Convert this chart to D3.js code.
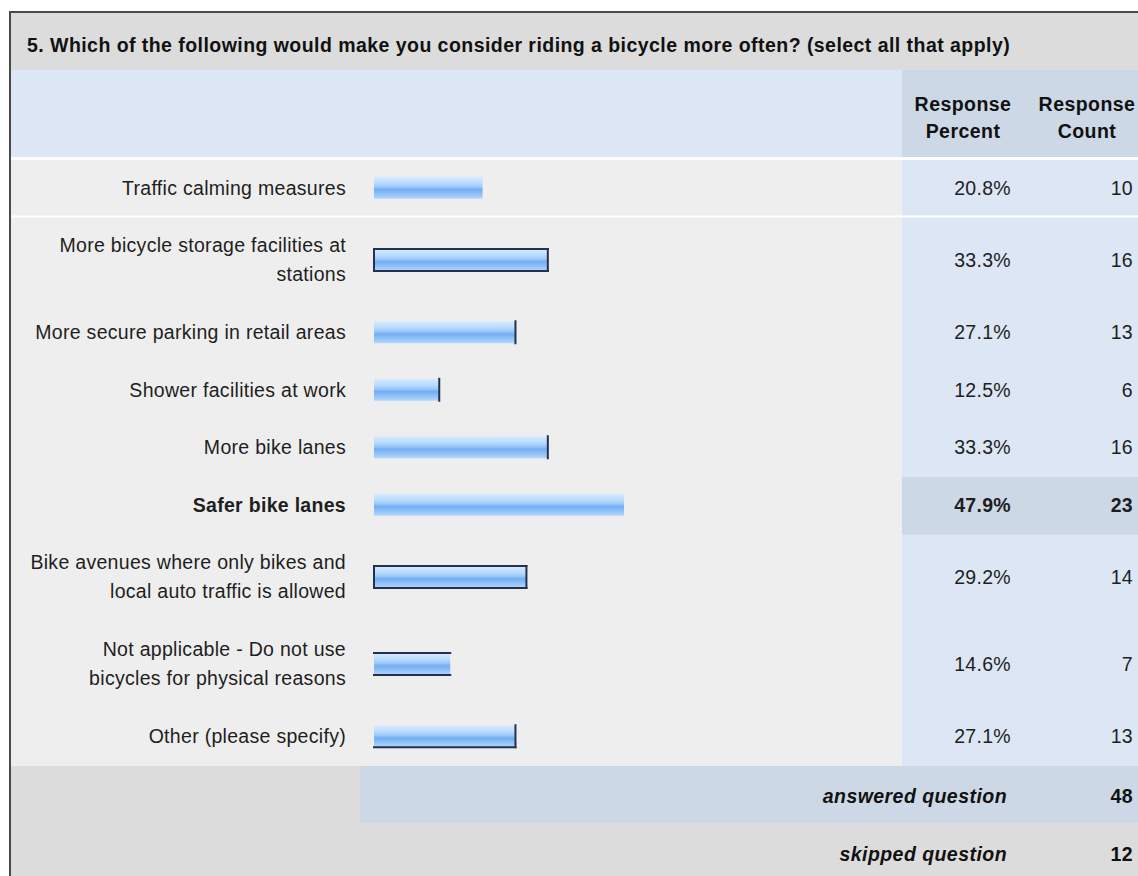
<!DOCTYPE html>
<html>
<head>
<meta charset="utf-8">
<script src="https://cdn.jsdelivr.net/npm/d3@7"></script>
<style>
  body { margin: 0; background: #fff; }
  svg { display: block; font-family: "Liberation Sans", Arial, sans-serif; letter-spacing: 0.3px; }
</style>
</head>
<body>
<div class="graph"></div>
<script>
let title = "5. Which of the following would make you consider riding a bicycle more often? (select all that apply)";
let categories = [
  ["Traffic calming measures"],
  ["More bicycle storage facilities at", "stations"],
  ["More secure parking in retail areas"],
  ["Shower facilities at work"],
  ["More bike lanes"],
  ["Safer bike lanes"],
  ["Bike avenues where only bikes and", "local auto traffic is allowed"],
  ["Not applicable - Do not use", "bicycles for physical reasons"],
  ["Other (please specify)"]
];
let percents = [20.8, 33.3, 27.1, 12.5, 33.3, 47.9, 29.2, 14.6, 27.1];
let counts = [10, 16, 13, 6, 16, 23, 14, 7, 13];
let headerPercent = ["Response", "Percent"];
let headerCount = ["Response", "Count"];
let summaryLabels = ["answered question", "skipped question"];
let summaryValues = [48, 12];

let w = 1138;
let h = 876;
let left = 11; // inside of frame
let rowTop = 160;
let labelRight = 346;
let barX = 374;
let colX = 902;
let pctRight = 1011;
let cntRight = 1133;
let fs = 19.5;

// dark edges that show on some bars in the original screenshot
let barEdges = ["", "trbl", "r", "r", "r", "", "trbl", "tb", "rb"];
let topIdx = d3.maxIndex(percents);

let svg = d3.select(".graph").append("svg").attr("width", w).attr("height", h);

let defs = svg.append("defs");
let grad = defs.append("linearGradient").attr("id", "barGrad")
  .attr("x1", 0).attr("y1", 0).attr("x2", 0).attr("y2", 1);
[["0%", "#d6ebff"], ["30%", "#b9dafd"], ["48%", "#96c5f8"], ["58%", "#74adf3"], ["72%", "#86bbf6"], ["100%", "#b3d7fc"]]
  .forEach(function (s) {
    grad.append("stop").attr("offset", s[0]).attr("stop-color", s[1]);
  });

// row layout from the number of label lines
let rowH = categories.map(function (c) { return c.length > 1 ? 87 : 57.5; });
let rowY = [];
let acc = rowTop;
rowH.forEach(function (rh) { rowY.push(acc); acc += rh; });
let rowsBottom = acc;

let xScale = d3.scaleLinear().domain([0, 100]).range([0, 522]);

// frame and bands
svg.append("rect").attr("x", left).attr("y", 13).attr("width", w).attr("height", h)
  .style("fill", "#eeeeee");
svg.append("rect").attr("x", left).attr("y", 13).attr("width", w).attr("height", 57)
  .style("fill", "#dcdcdc");
svg.append("rect").attr("x", left).attr("y", 70).attr("width", w).attr("height", 87)
  .style("fill", "#dce6f4");
svg.append("rect").attr("x", colX).attr("y", 70).attr("width", w - colX).attr("height", 87)
  .style("fill", "#cdd8e6");
svg.append("rect").attr("x", left).attr("y", 157).attr("width", w).attr("height", 3)
  .style("fill", "#ffffff");

// right columns body
svg.append("rect").attr("x", colX).attr("y", rowTop).attr("width", w - colX)
  .attr("height", rowsBottom - rowTop).style("fill", "#dce6f4");
svg.append("rect").attr("x", colX).attr("y", rowY[topIdx]).attr("width", w - colX)
  .attr("height", rowH[topIdx]).style("fill", "#cdd8e6");
svg.append("rect").attr("x", left).attr("y", rowY[1] - 2).attr("width", w).attr("height", 2)
  .style("fill", "#ffffff");

// summary rows
svg.append("rect").attr("x", left).attr("y", rowsBottom).attr("width", w).attr("height", h - rowsBottom)
  .style("fill", "#dcdcdc");
svg.append("rect").attr("x", 360).attr("y", rowsBottom).attr("width", w - 360).attr("height", 57)
  .style("fill", "#cdd8e6");

// outer frame line
svg.append("path")
  .attr("d", "M" + (left - 1) + "," + (h + 5) + "V" + 12 + "H" + (w + 5))
  .style("fill", "none").style("stroke", "#4a4a4a").style("stroke-width", 2);

// title
svg.append("text").attr("x", 27).attr("y", 45).attr("dy", "0.35em")
  .style("font-size", fs + "px").style("font-weight", "bold").style("fill", "#111")
  .style("letter-spacing", "0.45px")
  .text(title);

// headers
[[headerPercent, 963], [headerCount, 1087]].forEach(function (hd) {
  svg.append("g").selectAll("text").data(hd[0]).enter().append("text")
    .attr("x", hd[1]).attr("y", function (d, i) { return 104 + i * 27; })
    .attr("dy", "0.35em").attr("text-anchor", "middle")
    .style("font-size", fs + "px").style("font-weight", "bold").style("fill", "#111")
    .style("letter-spacing", "0.45px")
    .text(function (d) { return d; });
});

let rows = svg.append("g").selectAll("g").data(categories).enter().append("g")
  .attr("transform", function (d, i) { return "translate(0," + (rowY[i] + rowH[i] / 2 - 1) + ")"; })
  .style("font-weight", function (d, i) { return i === topIdx ? "bold" : "normal"; });

rows.each(function (d, i) {
  let g = d3.select(this);
  let n = d.length;
  g.selectAll("text.lab").data(d).enter().append("text").attr("class", "lab")
    .attr("x", labelRight).attr("y", function (t, j) { return (j - (n - 1) / 2) * 29; })
    .attr("dy", "0.35em").attr("text-anchor", "end")
    .style("font-size", fs + "px").style("fill", "#1e1e1e")
    .text(function (t) { return t; });

  let bw = xScale(percents[i]);
  g.append("rect").attr("x", barX).attr("y", -11).attr("width", bw).attr("height", 22)
    .style("fill", "url(#barGrad)");
  let e = barEdges[i];
  let segs = [];
  if (e.indexOf("t") >= 0) segs.push([barX, -11, barX + bw, -11]);
  if (e.indexOf("b") >= 0) segs.push([barX, 11, barX + bw, 11]);
  if (e.indexOf("l") >= 0) segs.push([barX, -11, barX, 11]);
  if (e.indexOf("r") >= 0) segs.push([barX + bw, -11, barX + bw, 11]);
  g.selectAll("line").data(segs).enter().append("line")
    .attr("x1", function (s) { return s[0]; }).attr("y1", function (s) { return s[1]; })
    .attr("x2", function (s) { return s[2]; }).attr("y2", function (s) { return s[3]; })
    .style("stroke", "#22324e").style("stroke-width", 2).style("stroke-linecap", "square");

  g.append("text").attr("x", pctRight).attr("dy", "0.35em").attr("text-anchor", "end")
    .style("font-size", fs + "px").style("fill", "#1e1e1e")
    .text(percents[i].toFixed(1) + "%");
  g.append("text").attr("x", cntRight).attr("dy", "0.35em").attr("text-anchor", "end")
    .style("font-size", fs + "px").style("fill", "#1e1e1e")
    .text(counts[i]);
});

let summary = svg.append("g").selectAll("g").data(summaryLabels).enter().append("g")
  .attr("transform", function (d, i) { return "translate(0," + (rowsBottom + 30 + i * 58) + ")"; })
  .style("font-weight", "bold").style("font-size", fs + "px").style("fill", "#111")
  .style("letter-spacing", "0.45px");
summary.append("text").attr("x", 1007).attr("dy", "0.35em").attr("text-anchor", "end")
  .style("font-style", "italic").text(function (d) { return d; });
summary.append("text").attr("x", cntRight).attr("dy", "0.35em").attr("text-anchor", "end")
  .text(function (d, i) { return summaryValues[i]; });
</script>
</body>
</html>
